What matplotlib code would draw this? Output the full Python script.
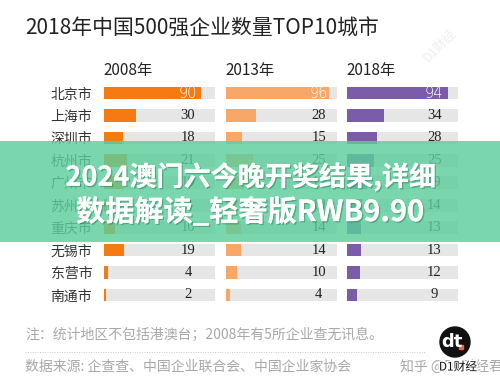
import matplotlib
matplotlib.use('Agg')
import matplotlib.pyplot as plt
from matplotlib.patches import Rectangle, Circle
import matplotlib.patheffects as pe

plt.rcParams['font.family'] = ['Noto Sans CJK SC', 'DejaVu Sans']

cities = ['北京市', '上海市', '深圳市', '杭州市', '广州市',
          '苏州市', '重庆市', '无锡市', '东营市', '南通市']
years = ['2008年', '2013年', '2018年']
v2008 = [90, 30, 18, 21, 19, 3, 10, 19, 4, 2]
v2013 = [96, 28, 15, 25, 17, 10, 14, 14, 10, 4]
v2018 = [94, 34, 28, 25, 19, 14, 13, 13, 12, 9]

title = '2018年中国500强企业数量TOP10城市'
note = '注：统计地区不包括港澳台；2008年有5所企业查无讯息。'
source = '数据来源: 企查查、中国企业联合会、中国企业家协会'
overlay = ['2024澳门六今晚开奖结果,详细', '数据解读_轻奢版RWB9.90']

W, H = 500, 384
colors = ['#F57A12', '#F9A766', '#7B5CA8']
track = '#E6E6E6'
col_left = [104, 226, 347]
col_w = 111
label_x = [78, 86, 81]   # where the value labels sit, in data units
row_top, row_bot = 81.8, 306.2


def fx(px):
    return px / W


def fy(py):
    return 1 - py / H


fig = plt.figure(figsize=(5, 3.84), dpi=100)
fig.patch.set_facecolor('white')

fig.text(fx(25), fy(29), title, fontsize=15, color='#222222', va='center', ha='left')

series = [v2008, v2013, v2018]
for i, vals in enumerate(series):
    ax = fig.add_axes([fx(col_left[i]), fy(row_bot), fx(col_w), (row_bot - row_top) / H])
    rows = list(range(len(cities)))
    ax.barh(rows, [103] * len(rows), height=0.57, color=track, left=0)
    ax.barh(rows, vals, height=0.57, color=colors[i])
    ax.set_xlim(0, 103)
    ax.set_ylim(len(cities) - 0.5, -0.5)
    ax.set_xticks([])
    for s in ax.spines.values():
        s.set_visible(False)
    ax.patch.set_alpha(0)
    if i == 0:
        ax.set_yticks(rows)
        ax.set_yticklabels(cities, fontsize=10, color='#333333')
        ax.tick_params(axis='y', length=0, pad=8.5)
    else:
        ax.set_yticks([])
    for r, v in enumerate(vals):
        if v > label_x[i]:
            ax.text(label_x[i], r, str(v), ha='center', va='center', fontsize=10.5,
                    color='white', family='DejaVu Sans', fontweight='light')
        else:
            ax.text(label_x[i], r, str(v), ha='center', va='center', fontsize=10.5,
                    color='#222222', family='Liberation Serif')
    fig.text(fx(col_left[i] - 1), fy(70), years[i], fontsize=11, color='#222222',
             ha='left', va='center')

fig.text(fx(25), fy(335), note, fontsize=10, color='#A8A8A8', ha='left', va='center')
fig.text(fx(25), fy(367), source, fontsize=10, color='#A8A8A8', ha='left', va='center')
fig.text(fx(400), fy(367), '知乎 @D1财经君', fontsize=10, color='#A8A8A8', ha='left', va='center')

# decoration layer in pixel coordinates
deco = fig.add_axes([0, 0, 1, 1], zorder=10)
deco.set_xlim(0, W)
deco.set_ylim(H, 0)
deco.axis('off')
deco.patch.set_alpha(0)

deco.plot([25, 425], [352, 352], ls=(0, (1, 1.5)), lw=0.7, color='#C8C8C8')

deco.text(440, 45, 'D1财经', rotation=45, fontsize=9, color='#EEEEEE', ha='center', va='center')

# logo
deco.add_patch(Circle((455, 342), 15, color='#111111'))
deco.text(452, 342, 'dt', color='white', fontsize=13, fontweight='bold', ha='center', va='center',
          family='DejaVu Sans')
deco.add_patch(Rectangle((459, 345), 4, 4, color='#E8643C'))
deco.text(458, 367, 'D1财经', color='#111111', fontsize=8.5, ha='center', va='center',
          path_effects=[pe.withStroke(linewidth=2, foreground='white')])

# green banner across the middle
deco.add_patch(Rectangle((0, 141), W, 101, color='#5CCE9B', alpha=0.82, lw=0))
shadow = [pe.withSimplePatchShadow(offset=(1, -1), shadow_rgbFace='#2E7D5B', alpha=0.5), pe.Normal()]
deco.text(251, 177, overlay[0], color='white', fontsize=19.5, fontweight='bold',
          ha='center', va='center', path_effects=shadow)
deco.text(250, 212, overlay[1], color='white', fontsize=21, fontweight='bold',
          ha='center', va='center', path_effects=shadow)

fig.savefig('out.png', dpi=100)
